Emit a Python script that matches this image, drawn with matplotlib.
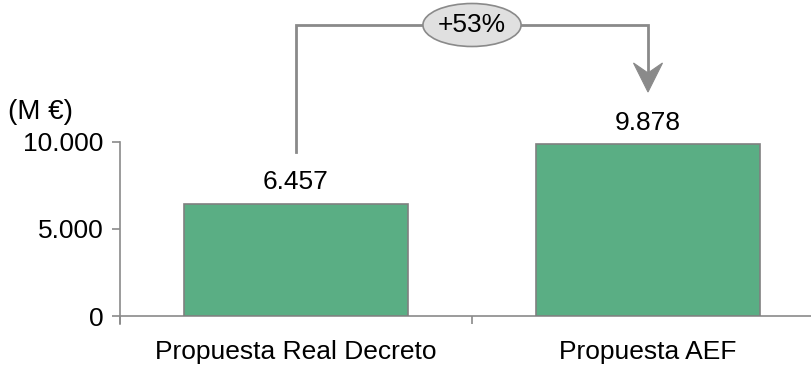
import matplotlib
matplotlib.use("Agg")
import matplotlib.pyplot as plt
from matplotlib.patches import Ellipse, Polygon
from matplotlib.ticker import FuncFormatter, FixedLocator
from matplotlib.transforms import Affine2D

categories = ["Propuesta Real Decreto", "Propuesta AEF"]
values = [6457, 9878]
y_ticks = [0, 5000, 10000]
change_label = "+53%"

plt.rcParams["font.family"] = ["Liberation Sans", "DejaVu Sans"]

BAR = "#5aae84"
EDGE = "#808080"
LINE = "#8a8a8a"
FS = 19

fig = plt.figure(figsize=(8.12, 3.66), dpi=100)
W, H = 812, 366
ax = fig.add_axes([120 / W, 50 / H, 704 / W, 174 / H])

x = list(range(len(categories)))
ax.bar(x, values, width=0.635, color=BAR, edgecolor=EDGE, linewidth=1.2, zorder=3)

def es_thousands(v, pos=None):
    return f"{int(round(v)):,}".replace(",", ".")

for xi, v in zip(x, values):
    ax.text(xi, v + 1220, es_thousands(v), ha="center", va="center", fontsize=FS)

ax.set_xlim(-0.5, len(categories) - 0.5)
ax.set_ylim(0, 10000)
ax.set_yticks(y_ticks)
ax.yaxis.set_major_formatter(FuncFormatter(es_thousands))

ax.set_xticks(x)
ax.set_xticklabels(categories, fontsize=FS)
ax.tick_params(axis="x", which="major", length=0, pad=17)
ax.xaxis.set_minor_locator(FixedLocator([i - 0.5 for i in range(len(categories) + 1)]))
ax.tick_params(axis="x", which="minor", length=6, width=1.2, color=LINE, direction="out")
ax.tick_params(axis="y", length=6, width=1.2, color=LINE, labelsize=FS, pad=6)

for s in ["top", "right"]:
    ax.spines[s].set_visible(False)
for s in ["left", "bottom"]:
    ax.spines[s].set_color(LINE)
    ax.spines[s].set_linewidth(1.2)
ax.spines["left"].set_bounds(-450, 10000)

ax.text(-0.5 - 112 / 351.5, 11724, "(M €)", fontsize=FS + 1, ha="left", va="center")

# growth bracket from the first bar to the second
y_top = 16724
y_start = values[0] + 2970
y_tip = 12874
head_len = 29 * 0.72   # points
head_half = 14.5 * 0.72
notch = 19 * 0.72
notch_val = y_tip + notch / 0.72 / 174 * 10000
ax.plot([x[0], x[0], x[1], x[1]], [y_start, y_top, y_top, notch_val], color=LINE, lw=2,
        clip_on=False, solid_joinstyle="miter", zorder=2)
tip_disp = ax.transData.transform((x[1], y_tip))
pts = [(0, 0), (-head_half, head_len), (0, notch), (head_half, head_len)]
head = Polygon(pts, closed=True, facecolor=LINE, edgecolor=LINE, lw=0.8,
               transform=Affine2D().scale(fig.dpi / 72.0).translate(*tip_disp),
               clip_on=False, zorder=3)
fig.add_artist(head)

mid = (x[0] + x[1]) / 2
ell = Ellipse((mid, y_top), width=98 / 351.5, height=43 / 174 * 10000, facecolor="#e0e0e0",
              edgecolor=LINE, lw=1.2, clip_on=False, zorder=4)
ax.add_patch(ell)
ax.text(mid, y_top, change_label, ha="center", va="center", fontsize=FS, zorder=5)

fig.savefig("out.png", dpi=100)
